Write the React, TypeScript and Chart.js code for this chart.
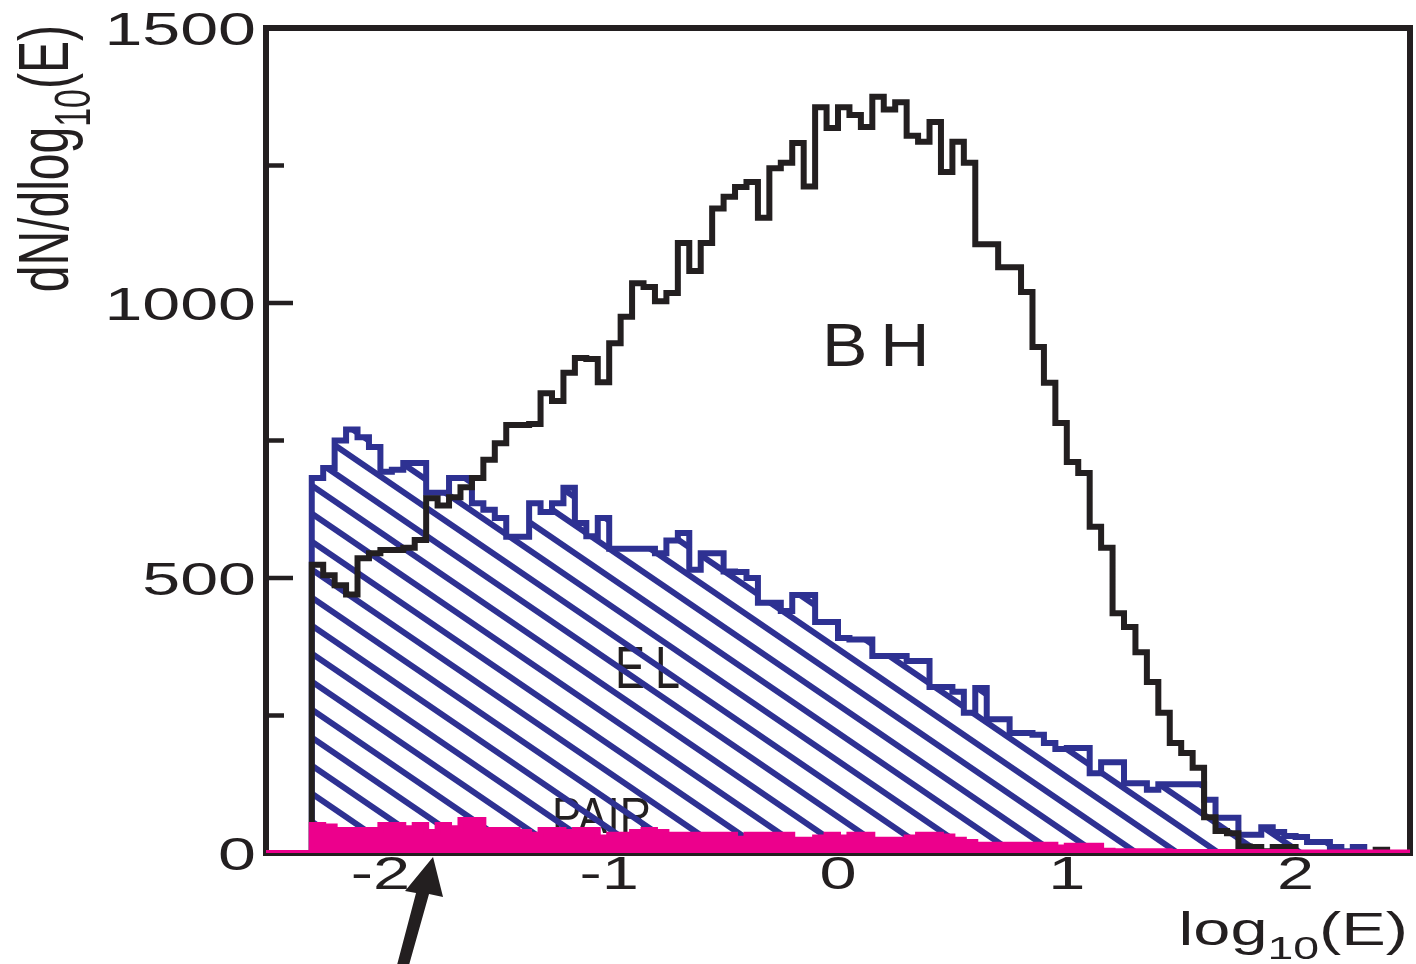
import React, { useEffect, useRef } from "react";
import { Chart, registerables } from "chart.js";

Chart.register(...registerables);

// ---------- data ----------
const BIN_LO = -2.5;
const BIN_W = 0.05;
const X_MIN = -2.5;
const X_MAX = 2.5;
const Y_MIN = 0;
const Y_MAX = 1500;
const X_TICKS = [-2, -1, 0, 1, 2];
const Y_MAJOR = [0, 500, 1000, 1500];
const Y_MINOR = [250, 750, 1250];

// bins start at -2.50 and step by 0.05 (10 bins per row)
const BH = [
  0, 0, 0, 0, 524, 505, 487, 470, 536, 545,
  551, 551, 555, 569, 645, 632, 647, 665, 682, 715,
  745, 778, 778, 780, 836, 822, 873, 900, 898, 856,
  927, 975, 1036, 1029, 1003, 1018, 1109, 1058, 1109, 1172,
  1193, 1211, 1220, 1155, 1245, 1255, 1291, 1212, 1356, 1318,
  1356, 1342, 1320, 1375, 1352, 1365, 1304, 1293, 1329, 1238,
  1293, 1255, 1107, 1107, 1065, 1065, 1020, 920, 855, 782,
  711, 691, 593, 555, 436, 411, 365, 311, 255, 200,
  182, 155, 65, 40, 36, 12, 11, 3, 11, 11,
  0, 0, 0, 0, 0, 0, 0, 6, 0, 0,
];

const EL = [
  0, 0, 0, 0, 682, 700, 750, 770, 756, 738,
  693, 697, 709, 709, 655, 655, 682, 682, 636, 624,
  609, 575, 575, 636, 620, 636, 664, 600, 576, 609,
  553, 553, 553, 553, 545, 568, 582, 515, 545, 545,
  512, 511, 500, 455, 455, 440, 469, 469, 420, 420,
  391, 388, 388, 358, 358, 358, 349, 349, 302, 302,
  293, 255, 300, 243, 243, 218, 218, 215, 200, 189,
  191, 191, 145, 165, 165, 127, 127, 115, 125, 125,
  125, 125, 97, 64, 64, 33, 33, 47, 38, 31,
  29, 20, 20, 11, 3, 11, 0, 0, 0, 0,
];

const PAIR = [
  0, 0, 0, 0, 51, 48, 42, 42, 42, 42,
  51, 51, 45, 51, 38, 51, 45, 60, 60, 42,
  42, 42, 38, 33, 42, 42, 38, 42, 42, 28,
  33, 33, 38, 42, 38, 33, 33, 33, 33, 33,
  33, 26, 33, 33, 33, 33, 24, 24, 28, 33,
  28, 33, 33, 24, 24, 24, 28, 33, 33, 30,
  24, 20, 15, 15, 15, 15, 15, 15, 15, 10,
  13, 13, 13, 4, 3, 3, 3, 3, 3, 2,
  2, 2, 2, 2, 2, 2, 2, 2, 2, 2,
  1, 1, 1, 1, 1, 1, 1, 1, 1, 1,
];

// in-plot annotations (data coordinates of left / baseline)
const LABELS = [
  { text: "B", x: -0.07, y: 885, size: 62, sx: 1.1 },
  { text: "H", x: 0.185, y: 885, size: 62, sx: 1.1 },
  { text: "E", x: -0.975, y: 300, size: 60, sx: 0.75 },
  { text: "L", x: -0.8, y: 300, size: 60, sx: 0.75 },
  { text: "PAIR", x: -1.25, y: 36, size: 50, sx: 0.88 },
];
const ARROW_X = -1.77;

// ---------- styling ----------
const INK = "#231F20";
const BLUE = "#2E3192";
const MAGENTA = "#EC008C";
const FONT = "'Liberation Sans', Arial, Helvetica, sans-serif";
const STRETCH = 1.45;

function toSteps(vals: number[]) {
  const pts = vals.map((v, i) => ({ x: BIN_LO + i * BIN_W, y: v }));
  pts.push({ x: BIN_LO + vals.length * BIN_W, y: vals[vals.length - 1] });
  return pts;
}

function makeHatch(): any {
  const W = 41;
  const H = 28;
  const c = document.createElement("canvas");
  c.width = W;
  c.height = H;
  const g = c.getContext("2d");
  if (!g) return BLUE;
  g.strokeStyle = BLUE;
  g.lineWidth = 6;
  const k = H / W;
  const c0 = 20.6;
  for (let m = -2; m <= 2; m++) {
    g.beginPath();
    g.moveTo(-6, k * -6 + c0 + m * H);
    g.lineTo(W + 6, k * (W + 6) + c0 + m * H);
    g.stroke();
  }
  return g.createPattern(c, "repeat") || BLUE;
}

function sText(ctx: CanvasRenderingContext2D, text: string, x: number, y: number, sx: number, align: CanvasTextAlign) {
  ctx.save();
  ctx.translate(x, y);
  ctx.scale(sx, 1);
  ctx.textAlign = align;
  ctx.textBaseline = "alphabetic";
  ctx.fillText(text, 0, 0);
  ctx.restore();
}

const decor = {
  id: "decor",
  beforeDatasetsDraw(chart: any) {
    const { ctx, chartArea: a, scales } = chart;
    const xs = scales.x;
    const ys = scales.y;
    ctx.save();
    // annotations under the hatching
    ctx.fillStyle = INK;
    for (const l of LABELS) {
      ctx.font = `${l.size}px ${FONT}`;
      sText(ctx, l.text, xs.getPixelForValue(l.x), ys.getPixelForValue(l.y), l.sx, "left");
    }
    // frame
    ctx.strokeStyle = INK;
    ctx.lineWidth = 6;
    ctx.strokeRect(a.left, a.top, a.right - a.left, a.bottom - a.top);
    // inner ticks on left axis
    ctx.lineWidth = 4.5;
    ctx.beginPath();
    for (const v of Y_MAJOR) {
      const py = ys.getPixelForValue(v);
      ctx.moveTo(a.left, py);
      ctx.lineTo(a.left + 27, py);
    }
    for (const v of Y_MINOR) {
      const py = ys.getPixelForValue(v);
      ctx.moveTo(a.left, py);
      ctx.lineTo(a.left + 18, py);
    }
    ctx.stroke();
    ctx.restore();
  },
  afterDatasetsDraw(chart: any) {
    const { ctx, chartArea: a, scales } = chart;
    const xs = scales.x;
    const ys = scales.y;
    ctx.save();
    ctx.fillStyle = INK;
    // y tick labels
    ctx.font = `47px ${FONT}`;
    for (const v of Y_MAJOR) {
      sText(ctx, String(v), a.left - 10, ys.getPixelForValue(v) + 17, STRETCH, "right");
    }
    // x tick labels
    ctx.font = `46px ${FONT}`;
    for (const v of X_TICKS) {
      sText(ctx, String(v), xs.getPixelForValue(v), a.bottom + 36, STRETCH, "center");
    }
    // x title: log10(E)
    {
      const main = `46px ${FONT}`;
      const sub = `32px ${FONT}`;
      ctx.font = main;
      const w1 = ctx.measureText("log").width * STRETCH;
      const w3 = ctx.measureText("(E)").width * STRETCH;
      ctx.font = sub;
      const w2 = ctx.measureText("10").width * STRETCH;
      const right = a.right - 2;
      const base = a.bottom + 92;
      let x0 = right - (w1 + w2 + w3);
      ctx.font = main;
      sText(ctx, "log", x0, base, STRETCH, "left");
      x0 += w1;
      ctx.font = sub;
      sText(ctx, "10", x0, base + 14, STRETCH, "left");
      x0 += w2;
      ctx.font = main;
      sText(ctx, "(E)", x0, base, STRETCH, "left");
    }
    // y title: dN/dlog10(E)
    {
      const main = `48px ${FONT}`;
      const sub = `34px ${FONT}`;
      ctx.font = main;
      const w1 = ctx.measureText("dN/dlog").width;
      const w3 = ctx.measureText("(E)").width;
      ctx.font = sub;
      const w2 = ctx.measureText("10").width;
      ctx.save();
      ctx.translate(68, a.top - 3);
      ctx.rotate(-Math.PI / 2);
      ctx.scale(1, STRETCH);
      ctx.textAlign = "left";
      ctx.textBaseline = "alphabetic";
      let x0 = -(w1 + w2 + w3);
      ctx.font = main;
      ctx.fillText("dN/dlog", x0, 0);
      x0 += w1;
      ctx.font = sub;
      ctx.fillText("10", x0, 15);
      x0 += w2;
      ctx.font = main;
      ctx.fillText("(E)", x0, 0);
      ctx.restore();
    }
    // arrow
    {
      const tx = xs.getPixelForValue(ARROW_X);
      const ty = a.bottom + 4;
      ctx.beginPath();
      ctx.moveTo(tx, ty);
      ctx.lineTo(tx + 10, ty + 40);
      ctx.lineTo(tx - 4, ty + 37);
      ctx.lineTo(tx - 24, ty + 108);
      ctx.lineTo(tx - 36, ty + 108);
      ctx.lineTo(tx - 17, ty + 36);
      ctx.lineTo(tx - 28, ty + 34);
      ctx.closePath();
      ctx.fill();
    }
    ctx.restore();
  },
};

export default function App() {
  const ref = useRef<HTMLCanvasElement | null>(null);
  useEffect(() => {
    document.body.style.margin = "0";
    const canvas = ref.current;
    if (!canvas) return;
    const hatch = makeHatch();
    const common = {
      stepped: "before" as const,
      pointRadius: 0,
      tension: 0,
      borderJoinStyle: "miter" as const,
      borderCapStyle: "butt" as const,
    };
    const chart = new Chart(canvas, {
      type: "line",
      data: {
        datasets: [
          {
            ...common,
            label: "PAIR",
            data: toSteps(PAIR),
            borderColor: MAGENTA,
            backgroundColor: MAGENTA,
            borderWidth: 6,
            fill: "origin",
            order: 0,
          },
          {
            ...common,
            label: "BH",
            data: toSteps(BH),
            borderColor: INK,
            borderWidth: 6,
            fill: false,
            order: 1,
          },
          {
            ...common,
            label: "EL",
            data: toSteps(EL),
            borderColor: BLUE,
            backgroundColor: hatch,
            borderWidth: 6,
            fill: "origin",
            order: 2,
          },
        ],
      },
      options: {
        responsive: false,
        animation: false,
        devicePixelRatio: 1,
        events: [],
        layout: { padding: { left: 266, top: 28, right: 6, bottom: 111 } },
        plugins: { legend: { display: false }, tooltip: { enabled: false } },
        scales: {
          x: { type: "linear", min: X_MIN, max: X_MAX, display: false },
          y: { type: "linear", min: Y_MIN, max: Y_MAX, display: false },
        },
      },
      plugins: [decor],
    } as any);
    return () => chart.destroy();
  }, []);
  return (
    <div style={{ position: "absolute", left: 0, top: 0, width: 1416, height: 964, background: "#fff" }}>
      <canvas ref={ref} width={1416} height={964} style={{ display: "block" }} />
    </div>
  );
}
